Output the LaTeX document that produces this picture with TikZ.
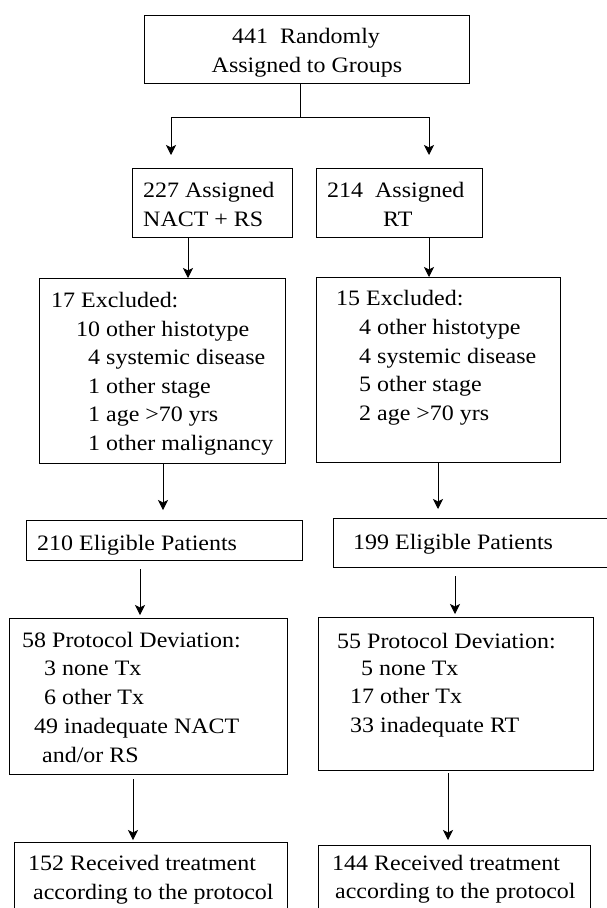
\documentclass[tikz,border=0pt]{standalone}
\usepackage{fontspec}
\setmainfont[FakeStretch=1.09]{Liberation Serif}
\usetikzlibrary{arrows.meta}
\tikzset{
  bx/.style={draw, line width=1pt, inner sep=0pt, anchor=north west},
  tx/.style={inner sep=0pt, anchor=base west, font=\fontsize{22}{29}\selectfont},
  txc/.style={tx, anchor=base},
  arr/.style={-{Stealth[length=10pt,width=10pt,inset=2.5pt]}, line width=0.9pt},
}
\begin{document}
\begin{tikzpicture}[x=1pt,y=-1pt]
\useasboundingbox (0,0) rectangle (607,908);
\clip (0,0) rectangle (607,908);
\fill[white] (0,0) rectangle (607,908);
% boxes
\node[bx, minimum width=325pt, minimum height=68pt] (top) at (144,15) {};
\node[bx, minimum width=160pt, minimum height=69pt] (b227) at (132,168) {};
\node[bx, minimum width=166pt, minimum height=69pt] (b214) at (316,168) {};
\node[bx, minimum width=246pt, minimum height=185pt] (b17) at (39,278) {};
\node[bx, minimum width=244pt, minimum height=185pt] (b15) at (316,277) {};
\node[bx, minimum width=276pt, minimum height=40pt] (b210) at (26,520) {};
\node[bx, minimum width=285pt, minimum height=49pt] (b199) at (333,518) {};
\node[bx, minimum width=278pt, minimum height=156pt] (b58) at (9,618) {};
\node[bx, minimum width=275pt, minimum height=153pt] (b55) at (318,617) {};
\node[bx, minimum width=273pt, minimum height=80pt] (b152) at (14,842) {};
\node[bx, minimum width=272pt, minimum height=80pt] (b144) at (318,845) {};
% texts
\node[txc] (t1) at (306,43) {441\ \ Randomly};
\node[txc] (t2) at (307,72) {Assigned to Groups};
\node[tx] (t3) at (143,197) {227 Assigned};
\node[tx] (t4) at (143,226) {NACT + RS};
\node[tx] (t5) at (327,197) {214\ \ Assigned};
\node[tx] (t6) at (383,226) {RT};
\node[tx] (t7) at (51,307) {17 Excluded:};
\node[tx] (t8) at (76,336) {10 other histotype};
\node[tx] (t9) at (88,364) {4 systemic disease};
\node[tx] (t10) at (88,393) {1 other stage};
\node[tx] (t11) at (88,421) {1 age >70 yrs};
\node[tx] (t12) at (88,450) {1 other malignancy};
\node[tx] (t13) at (336,305) {15 Excluded:};
\node[tx] (t14) at (359,334) {4 other histotype};
\node[tx] (t15) at (359,363) {4 systemic disease};
\node[tx] (t16) at (359,391) {5 other stage};
\node[tx] (t17) at (359,420) {2 age >70 yrs};
\node[tx] (t18) at (37,550) {210 Eligible Patients};
\node[tx] (t19) at (353,549) {199 Eligible Patients};
\node[tx] (t20) at (22,647) {58 Protocol Deviation:};
\node[tx] (t21) at (44,675) {3 none Tx};
\node[tx] (t22) at (44,704) {6 other Tx};
\node[tx] (t23) at (34,733) {49 inadequate NACT};
\node[tx] (t24) at (42,762) {and/or RS};
\node[tx] (t25) at (337,648) {55 Protocol Deviation:};
\node[tx] (t26) at (361,675) {5 none Tx};
\node[tx] (t27) at (350,703) {17 other Tx};
\node[tx] (t28) at (350,732) {33 inadequate RT};
\node[tx] (t29) at (28,870) {152 Received treatment};
\node[tx] (t30) at (33,899) {according to the protocol};
\node[tx] (t31) at (332,870) {144 Received treatment};
\node[tx] (t32) at (335,898) {according to the protocol};
% helper coordinates
\coordinate (split) at (300,117);
\coordinate (a1) at (171,155);
\coordinate (a2) at (429,155);
\coordinate (x1) at (188,0);
\coordinate (x2) at (429,0);
\coordinate (x3) at (163,0);
\coordinate (x4) at (438,0);
\coordinate (x5) at (140,0);
\coordinate (x6) at (455,0);
\coordinate (x7) at (133,0);
\coordinate (x8) at (448,0);
% connectors
\draw[line width=0.9pt] (split |- top.south) -- (split);
\draw[arr] (split) -| (a1);
\draw[arr] (split) -| (a2);
\draw[arr] (x1 |- b227.south) -- (x1 |- b17.north);
\draw[arr] (x2 |- b214.south) -- (x2 |- b15.north);
\draw[arr, shorten >=10pt] (x3 |- b17.south) -- (x3 |- b210.north);
\draw[arr, shorten >=9pt] (x4 |- b15.south) -- (x4 |- b199.north);
\draw[arr, shorten <=8pt, shorten >=3pt] (x5 |- b210.south) -- (x5 |- b58.north);
\draw[arr, shorten <=8pt, shorten >=3pt] (x6 |- b199.south) -- (x6 |- b55.north);
\draw[arr, shorten <=4pt, shorten >=2pt] (x7 |- b58.south) -- (x7 |- b152.north);
\draw[arr, shorten <=2pt, shorten >=5pt] (x8 |- b55.south) -- (x8 |- b144.north);
\end{tikzpicture}
\end{document}
